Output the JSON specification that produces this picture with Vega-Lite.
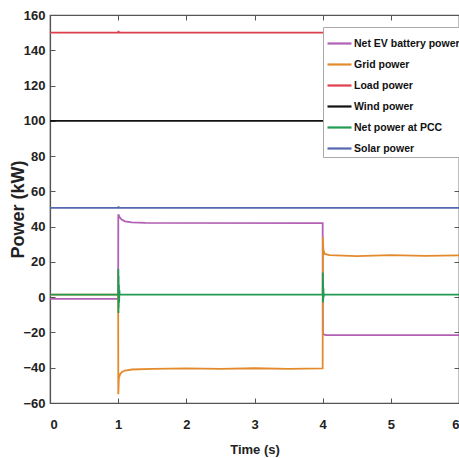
{
  "$schema": "https://vega.github.io/schema/vega-lite/v6.json",
  "autosize": "none",
  "width": 409,
  "height": 388,
  "padding": {"left": 50, "top": 15, "right": 0, "bottom": 55},
  "background": "white",
  "config": {
    "font": "Liberation Sans, Arial, sans-serif",
    "view": {"stroke": "#555", "strokeWidth": 1.2},
    "axis": {
      "grid": false,
      "domainColor": "#555",
      "domainWidth": 1.2,
      "tickColor": "#555",
      "labelFontSize": 13,
      "labelFontWeight": "bold",
      "labelColor": "#222",
      "titleFontSize": 13,
      "titleFontWeight": "bold",
      "titleColor": "#222"
    }
  },
  "data": {"values": [
    {"t": 0, "p": 150, "s": "Load power"},
    {"t": 1.0, "p": 150, "s": "Load power"},
    {"t": 1.005, "p": 151, "s": "Load power"},
    {"t": 1.01, "p": 150, "s": "Load power"},
    {"t": 6, "p": 150, "s": "Load power"},
    {"t": 0, "p": 100, "s": "Wind power"},
    {"t": 6, "p": 100, "s": "Wind power"},
    {"t": 0, "p": 50.6, "s": "Solar power"},
    {"t": 1.0, "p": 50.6, "s": "Solar power"},
    {"t": 1.005, "p": 51.5, "s": "Solar power"},
    {"t": 1.01, "p": 50.6, "s": "Solar power"},
    {"t": 6, "p": 50.6, "s": "Solar power"},
    {"t": 0, "p": -1, "s": "Net EV battery power"},
    {"t": 1.0, "p": -1, "s": "Net EV battery power"},
    {"t": 1.002, "p": 47, "s": "Net EV battery power"},
    {"t": 1.02, "p": 45.5, "s": "Net EV battery power"},
    {"t": 1.05, "p": 44, "s": "Net EV battery power"},
    {"t": 1.1, "p": 43, "s": "Net EV battery power"},
    {"t": 1.2, "p": 42.4, "s": "Net EV battery power"},
    {"t": 1.4, "p": 42.1, "s": "Net EV battery power"},
    {"t": 4.0, "p": 42, "s": "Net EV battery power"},
    {"t": 4.003, "p": -21, "s": "Net EV battery power"},
    {"t": 4.05, "p": -21.5, "s": "Net EV battery power"},
    {"t": 6, "p": -21.5, "s": "Net EV battery power"},
    {"t": 0, "p": 1.5, "s": "Grid power"},
    {"t": 1.0, "p": 1.5, "s": "Grid power"},
    {"t": 1.002, "p": -55, "s": "Grid power"},
    {"t": 1.01, "p": -46, "s": "Grid power"},
    {"t": 1.03, "p": -43.5, "s": "Grid power"},
    {"t": 1.06, "p": -42.3, "s": "Grid power"},
    {"t": 1.1, "p": -41.6, "s": "Grid power"},
    {"t": 1.2, "p": -41, "s": "Grid power"},
    {"t": 1.5, "p": -40.6, "s": "Grid power"},
    {"t": 2.0, "p": -40.4, "s": "Grid power"},
    {"t": 2.5, "p": -40.7, "s": "Grid power"},
    {"t": 3.0, "p": -40.3, "s": "Grid power"},
    {"t": 3.5, "p": -40.6, "s": "Grid power"},
    {"t": 4.0, "p": -40.4, "s": "Grid power"},
    {"t": 4.003, "p": 34, "s": "Grid power"},
    {"t": 4.01, "p": 27, "s": "Grid power"},
    {"t": 4.03, "p": 24.5, "s": "Grid power"},
    {"t": 4.1, "p": 23.8, "s": "Grid power"},
    {"t": 4.5, "p": 23.3, "s": "Grid power"},
    {"t": 5.0, "p": 23.8, "s": "Grid power"},
    {"t": 5.5, "p": 23.4, "s": "Grid power"},
    {"t": 6, "p": 23.7, "s": "Grid power"},
    {"t": 0, "p": 1.5, "s": "Net power at PCC"},
    {"t": 1.0, "p": 1.5, "s": "Net power at PCC"},
    {"t": 1.002, "p": 16, "s": "Net power at PCC"},
    {"t": 1.004, "p": -9, "s": "Net power at PCC"},
    {"t": 1.006, "p": 12, "s": "Net power at PCC"},
    {"t": 1.008, "p": -6, "s": "Net power at PCC"},
    {"t": 1.011, "p": 7, "s": "Net power at PCC"},
    {"t": 1.014, "p": -3, "s": "Net power at PCC"},
    {"t": 1.018, "p": 4, "s": "Net power at PCC"},
    {"t": 1.022, "p": 1.5, "s": "Net power at PCC"},
    {"t": 4.0, "p": 1.5, "s": "Net power at PCC"},
    {"t": 4.002, "p": 14, "s": "Net power at PCC"},
    {"t": 4.004, "p": -3, "s": "Net power at PCC"},
    {"t": 4.006, "p": 9, "s": "Net power at PCC"},
    {"t": 4.008, "p": -2, "s": "Net power at PCC"},
    {"t": 4.011, "p": 5, "s": "Net power at PCC"},
    {"t": 4.015, "p": 0, "s": "Net power at PCC"},
    {"t": 4.02, "p": 1.5, "s": "Net power at PCC"},
    {"t": 6, "p": 1.5, "s": "Net power at PCC"}
  ]},
  "layer": [
    {
      "mark": {"type": "line", "strokeWidth": 1.8, "clip": true},
      "encoding": {
        "x": {"field": "t", "type": "quantitative", "scale": {"domain": [0, 6], "nice": false},
              "axis": {"title": "Time (s)", "values": [0, 1, 2, 3, 4, 5, 6], "tickSize": -5, "labelPadding": 20, "titlePadding": 12}},
        "y": {"field": "p", "type": "quantitative", "scale": {"domain": [-60, 160], "nice": false},
              "axis": {"title": "Power (kW)", "titleFontSize": 18, "values": [-60, -40, -20, 0, 20, 40, 60, 80, 100, 120, 140, 160], "tickSize": -5, "labelPadding": 10, "titlePadding": -5}},
        "color": {"field": "s", "type": "nominal",
          "scale": {"domain": ["Net EV battery power", "Grid power", "Load power", "Wind power", "Net power at PCC", "Solar power"],
                    "range": ["#b260b4", "#e38b2c", "#de3f4c", "#111111", "#239a52", "#5467b0"]},
          "legend": {"title": null, "orient": "none", "legendX": 273, "legendY": 12,
                     "symbolType": "stroke", "symbolSize": 576, "symbolStrokeWidth": 2.2,
                     "labelFontSize": 10.5, "labelFontWeight": "bold", "labelColor": "#111",
                     "rowPadding": 2, "padding": 3, "fillColor": "white", "strokeColor": "#aaa", "labelOffset": 1}},
        "order": {"value": 0}
      }
    },
    {
      "mark": {"type": "line", "opacity": 0},
      "encoding": {
        "x": {"field": "t", "type": "quantitative", "scale": {"domain": [0, 6], "nice": false},
              "axis": {"orient": "top", "title": null, "labels": false, "values": [0, 1, 2, 3, 4, 5, 6], "tickSize": -5}},
        "y": {"field": "p", "type": "quantitative", "scale": {"domain": [-60, 160], "nice": false},
              "axis": {"orient": "right", "title": null, "labels": false, "values": [-60, -40, -20, 0, 20, 40, 60, 80, 100, 120, 140, 160], "tickSize": -5}},
        "detail": {"field": "s"}
      }
    }
  ],
  "resolve": {"axis": {"x": "independent", "y": "independent"}}
}
